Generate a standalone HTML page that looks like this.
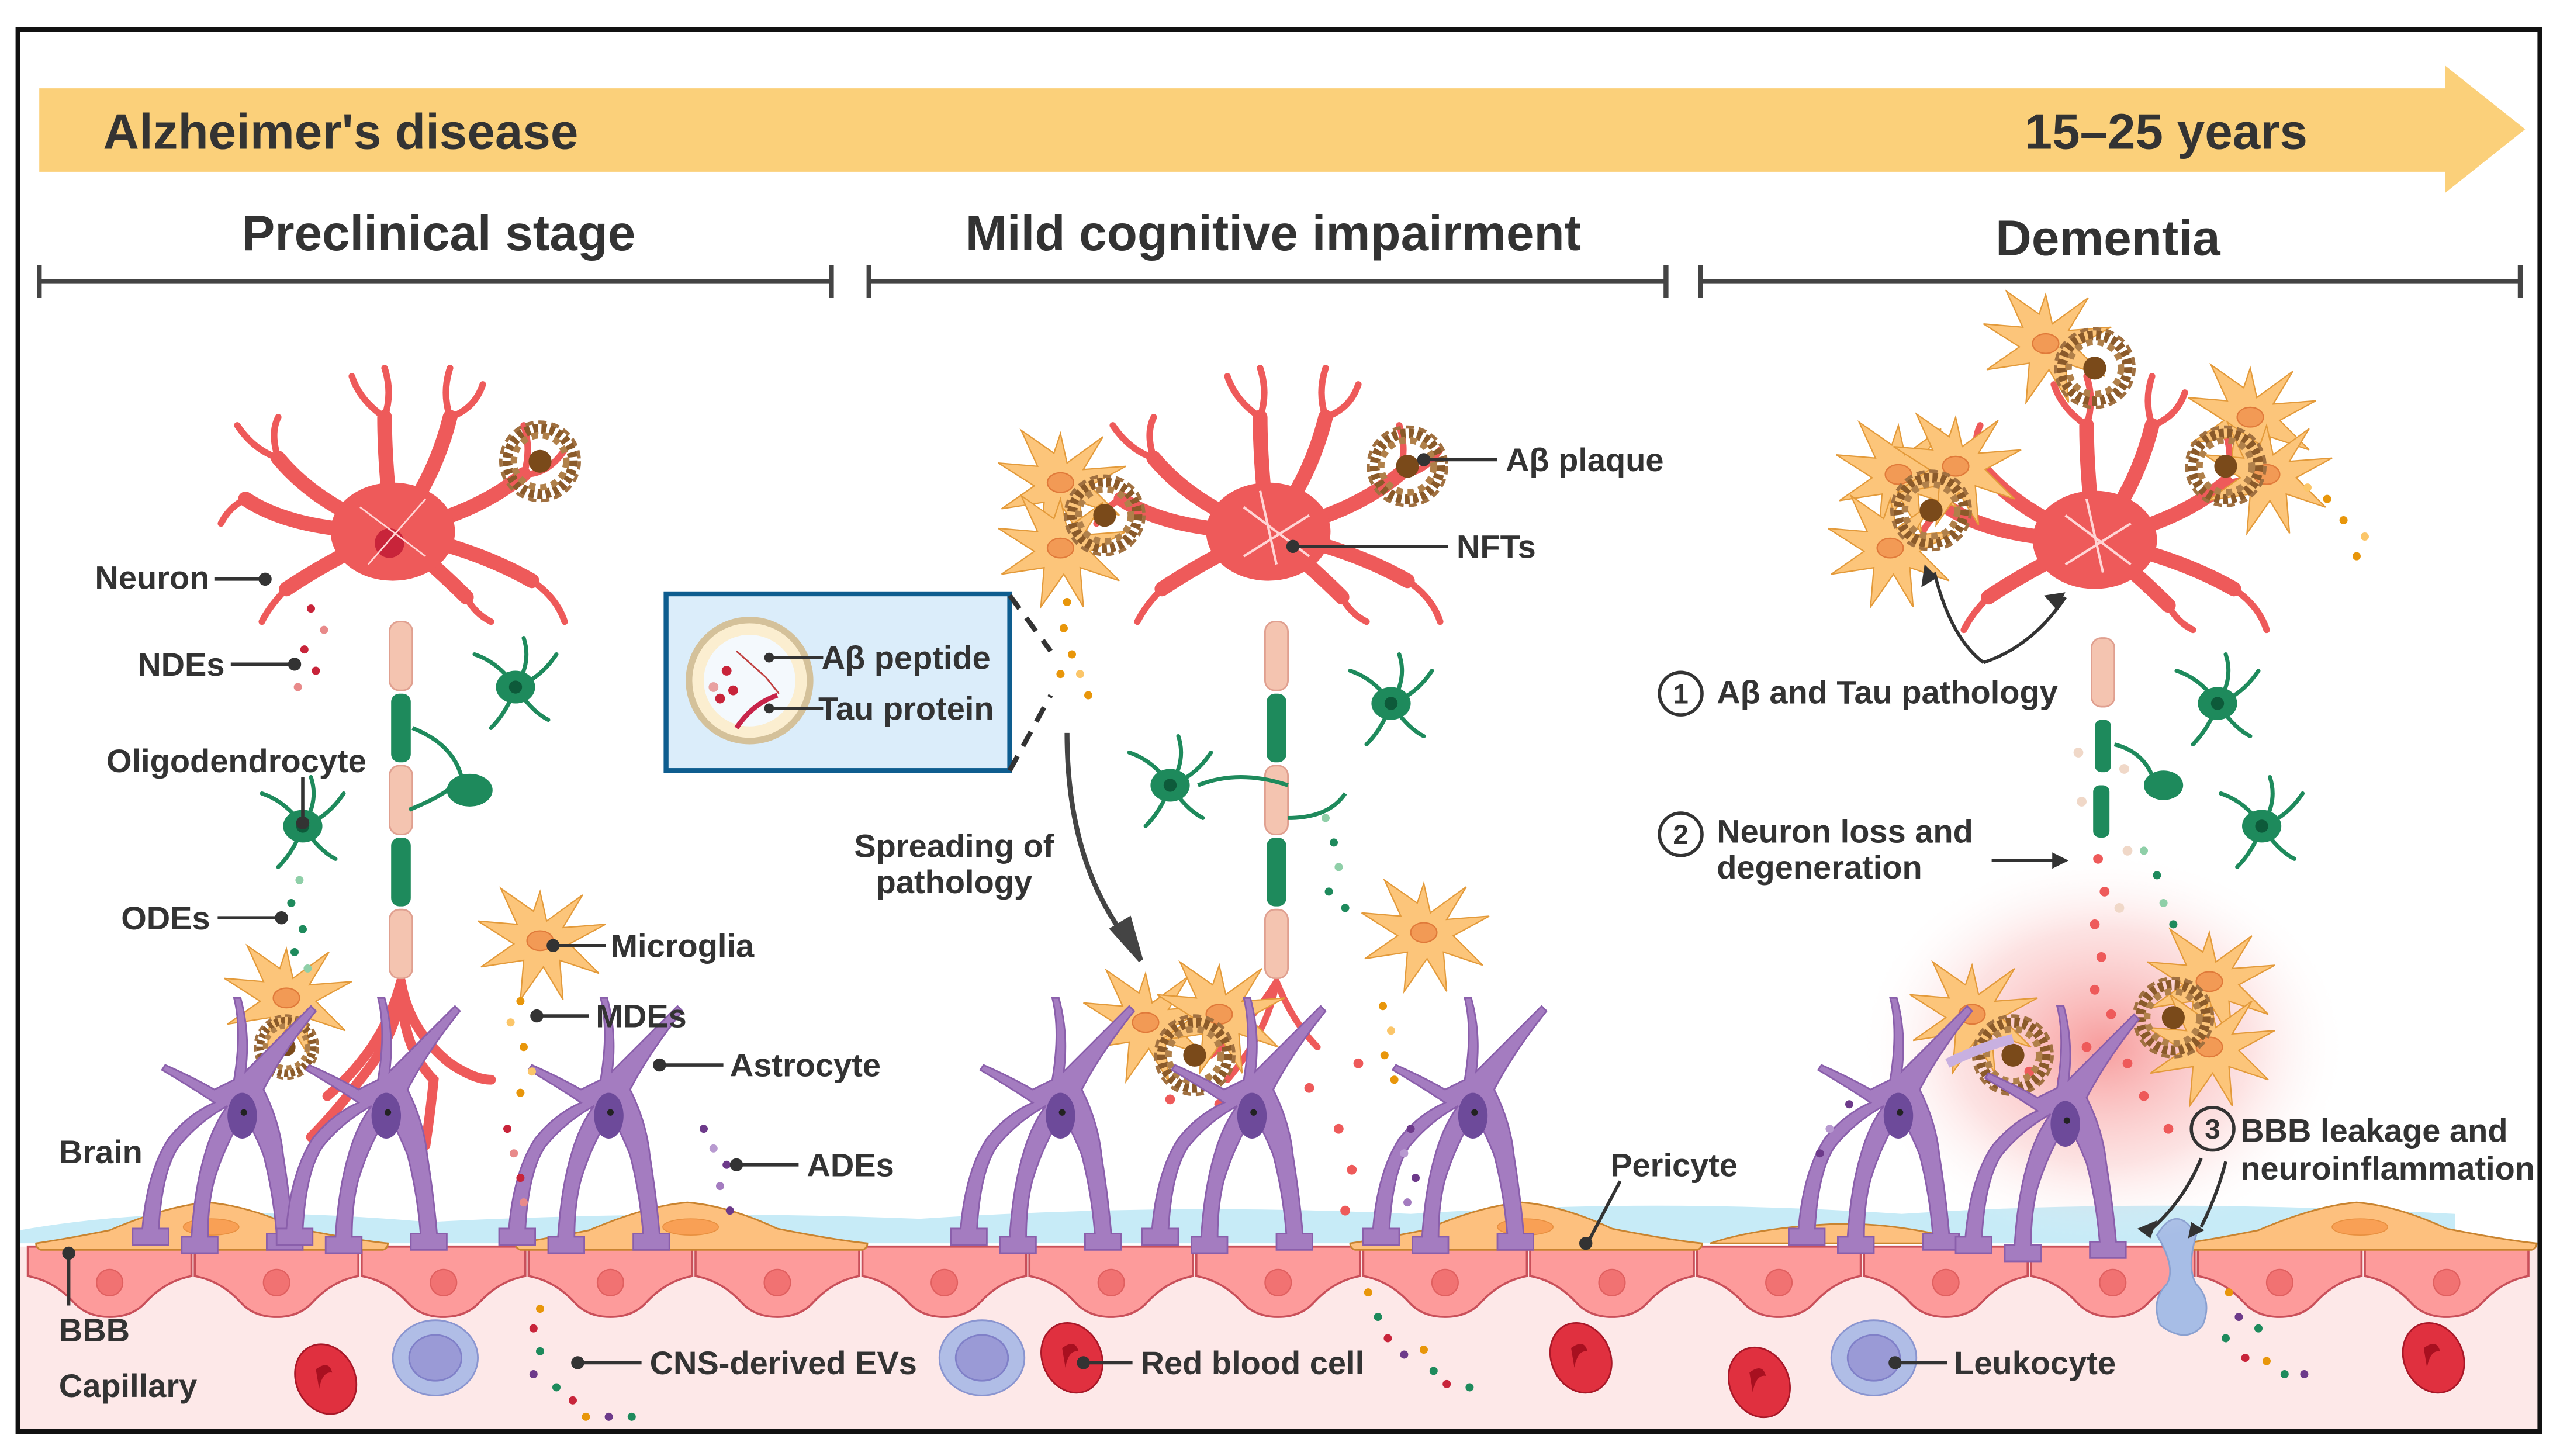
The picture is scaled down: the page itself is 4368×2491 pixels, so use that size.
<!DOCTYPE html>
<html><head><meta charset="utf-8"><style>
html,body{margin:0;padding:0;background:#fff;}
svg{display:block;}
text{font-family:"Liberation Sans",Arial,sans-serif;font-weight:bold;fill:#333;}
</style></head><body>
<svg width="4368" height="2491" viewBox="0 0 1560 890" preserveAspectRatio="none" xmlns="http://www.w3.org/2000/svg">
<defs>
<radialGradient id="glow" cx="50%" cy="50%" r="50%">
<stop offset="0" stop-color="#f25a5a" stop-opacity="0.6"/>
<stop offset="0.6" stop-color="#f7a0a0" stop-opacity="0.3"/>
<stop offset="1" stop-color="#fff" stop-opacity="0"/>
</radialGradient>
<g id="endo">
<path d="M1,762 h100 v18 q-16,3 -28,16 q-8,9 -22,9 q-14,0 -22,-9 q-12,-13 -28,-16 z" fill="#fd9b9b" stroke="#c9505a" stroke-width="1.3"/>
<circle cx="51" cy="784" r="8" fill="#f17272" stroke="#e06060" stroke-width="0.8"/>
</g>
<g id="peri">
<path d="M0,760 q20,-3 45,-8 q35,-15 60,-17 q25,2 55,16 q35,7 55,9 q0,3 -3,4 h-209 q-3,-1 -3,-4z" fill="#fdc07e" stroke="#c98430" stroke-width="1"/>
<ellipse cx="107" cy="750" rx="17" ry="5" fill="#f9a055" stroke="#e89040" stroke-width="0.6"/>
</g>
<g id="astro" fill="#a47cc0" stroke="#8a5fab" stroke-width="1">
<path d="M-5,-30 q5,-30 0,-50 l4,0 q6,22 3,45 q25,-25 40,-40 l3,3 q-20,25 -32,48 q10,20 12,40 q4,25 6,48 h6 v10 h-22 v-10 h6 q-2,-25 -8,-48 q-6,-15 -12,-25 q-12,20 -18,40 q-4,15 -4,35 h6 v10 h-22 v-10 h6 q2,-30 8,-50 q5,-18 14,-30 q-18,10 -30,25 q-10,15 -12,50 h6 v10 h-22 v-10 h6 q3,-35 16,-55 q12,-15 28,-22 q-15,-10 -32,-20 l2,-3 q18,8 30,15 z"/>
<ellipse cx="0" cy="-8" rx="9" ry="14" fill="#6d4a9a" stroke="none"/>
<circle cx="1" cy="-10" r="2" fill="#222" stroke="none"/>
</g>
<g id="micro" fill="#fcc57a" stroke="#e39a3a" stroke-width="0.8">
<path d="M0,-30 l4,18 l22,-16 l-12,20 l26,-2 l-22,12 l18,18 l-24,-8 l2,24 l-12,-20 l-14,20 l2,-24 l-26,4 l20,-14 l-22,-14 l24,2 l-10,-22 l20,14z"/>
<ellipse cx="0" cy="0" rx="8" ry="6" fill="#f29a55" stroke="#e07a3a"/>
</g>
<g id="plaque" fill="none">
<circle r="20" stroke="#8a5a2a" stroke-width="6" stroke-dasharray="3 2"/>
<circle r="16" stroke="#b0804a" stroke-width="4" stroke-dasharray="4 3"/>
<circle r="24" stroke="#a07040" stroke-width="2" stroke-dasharray="5 3"/>
<circle r="7" fill="#7a4a1a"/>
</g>
<g id="oligo" fill="none" stroke="#1e8a5c" stroke-width="2.5" stroke-linecap="round">
<path d="M0,0 q-10,-15 -25,-20 M0,0 q10,-15 5,-30 M0,0 q15,-5 25,-20 M0,0 q-5,15 -15,25 M0,0 q10,15 20,20"/>
<ellipse cx="0" cy="0" rx="12" ry="10" fill="#1e8a5c" stroke="none"/>
<circle cx="0" cy="0" r="4" fill="#0d5a3a" stroke="none"/>
</g>
<g id="rbc"><ellipse rx="18" ry="22" fill="#e0303f" stroke="#a81828" transform="rotate(-25)"/><path d="M-6,-6 q8,-6 10,2 q-6,-1 -8,10z" fill="#a81020"/></g>
<g id="leuko"><ellipse rx="26" ry="23" fill="#b0bde6" stroke="#8a95d0"/><ellipse rx="16" ry="14" fill="#9a9ad6" stroke="#8080c8"/></g>
<g id="dend" fill="none" stroke="#ee5a5a" stroke-linecap="round">
<path stroke-width="9" d="M0,0 q-5,-40 -5,-70 M0,0 q25,-30 35,-70 M0,0 q-45,-15 -70,-45 M0,0 q50,-10 80,-35 M0,0 q-60,0 -90,-20 M0,0 q50,10 85,30 M0,0 q-35,15 -65,35 M0,0 q25,20 45,40"/>
<path stroke-width="4" d="M-5,-70 q-15,-10 -20,-25 M-5,-70 q5,-15 0,-30 M35,-70 q-5,-15 0,-30 M35,-70 q15,-5 20,-20 M-70,-45 q-15,-5 -25,-20 M-70,-45 q-5,-15 0,-25 M80,-35 q5,-15 0,-30 M80,-35 q15,0 25,-15 M-90,-20 q-10,5 -15,15 M85,30 q15,10 20,25 M-65,35 q-10,10 -15,20 M45,40 q5,10 15,15"/>
<ellipse cx="0" cy="0" rx="38" ry="30" fill="#ee5a5a" stroke="none"/>
</g>
<g id="axon">
<rect x="-7" y="0" width="14" height="42" rx="6" fill="#f4c4b0" stroke="#e0a090"/>
<rect x="-6" y="44" width="12" height="42" rx="5" fill="#1e8a5c"/>
<rect x="-7" y="88" width="14" height="42" rx="6" fill="#f4c4b0" stroke="#e0a090"/>
<rect x="-6" y="132" width="12" height="42" rx="5" fill="#1e8a5c"/>
<rect x="-7" y="176" width="14" height="42" rx="6" fill="#f4c4b0" stroke="#e0a090"/>
</g>
</defs>

<rect width="1560" height="890" fill="#fff"/>
<rect x="12" y="762" width="1540" height="112" fill="#fde8e8"/>
<path d="M12,752 q100,-18 250,-5 q150,-8 300,-2 q150,-10 300,-3 q150,-10 300,0 q150,-10 338,0 v18 h-1488z" fill="#c7ebf7"/>
<g>
<use href="#endo" x="16"/><use href="#endo" x="118"/><use href="#endo" x="220"/><use href="#endo" x="322"/><use href="#endo" x="424"/>
<use href="#endo" x="526"/><use href="#endo" x="628"/><use href="#endo" x="730"/><use href="#endo" x="832"/><use href="#endo" x="934"/>
<use href="#endo" x="1036"/><use href="#endo" x="1138"/><use href="#endo" x="1240"/><use href="#endo" x="1342"/><use href="#endo" x="1444"/>
</g>
<use href="#peri" x="22"/><use href="#peri" x="315"/><use href="#peri" x="825"/><use href="#peri" x="1335"/>
<path d="M1045,760 q30,-10 80,-12 q40,0 80,12z" fill="#fdc07e" stroke="#c98430"/>
<path d="M1318,755 q12,-20 24,0 q-6,20 0,30 q10,10 4,25 q-10,12 -26,0 q-6,-15 4,-25 q6,-10 -6,-30z" fill="#a7bde6" stroke="#8aa0d0"/>
<ellipse cx="1285" cy="640" rx="150" ry="120" fill="url(#glow)"/>

<rect x="11" y="18" width="1541" height="857" fill="none" stroke="#111" stroke-width="3"/>

<path d="M24,54 H1494 V40 L1543,79 L1494,118 V105 H24z" fill="#fbd07a"/>
<text x="63" y="91" font-size="30.5">Alzheimer's disease</text>
<text x="1237" y="91" font-size="30.5">15–25 years</text>

<text x="268" y="153" font-size="30.5" text-anchor="middle">Preclinical stage</text>
<text x="778" y="153" font-size="30.5" text-anchor="middle">Mild cognitive impairment</text>
<text x="1288" y="156" font-size="30.5" text-anchor="middle">Dementia</text>
<g stroke="#444" stroke-width="3">
<path d="M24,172 H508 M24,162 V182 M508,162 V182"/>
<path d="M531,172 H1018 M531,162 V182 M1018,162 V182"/>
<path d="M1039,172 H1540 M1039,162 V182 M1540,162 V182"/>
</g>

<!-- Stage 1 -->
<g fill="none" stroke="#ee5a5a" stroke-linecap="round">
<path stroke-width="6" d="M245,600 q0,30 -25,60 q-15,20 -30,35 M245,600 q5,30 30,50 q15,10 25,10 M245,600 q0,40 20,60 q-2,20 -5,40 M245,600 q-10,40 -45,70"/>
</g>
<use href="#axon" x="245" y="380"/>
<use href="#dend" x="240" y="325"/>
<circle cx="238" cy="332" r="9" fill="#c8243a"/>
<path d="M220,310 l40,30 M225,345 l35,-40" stroke="#ffd5d5" stroke-width="1"/>
<use href="#plaque" x="330" y="282"/>
<use href="#oligo" x="315" y="420"/>
<use href="#oligo" x="185" y="505"/>
<path d="M252,445 q25,10 30,30 M250,495 q25,-10 32,-20" fill="none" stroke="#1e8a5c" stroke-width="2.5"/>
<ellipse cx="287" cy="483" rx="14" ry="10" fill="#1e8a5c"/>
<use href="#micro" x="330" y="575"/>
<use href="#micro" x="175" y="610"/>
<use href="#plaque" x="175" y="640" transform="translate(175 640) scale(0.8) translate(-175 -640)"/>
<use href="#astro" x="148" y="690"/>
<use href="#astro" x="236" y="690"/>
<use href="#astro" x="372" y="690"/>
<g>
<circle cx="190" cy="372" r="2.5" fill="#c8243a"/><circle cx="198" cy="385" r="2.5" fill="#e88a8a"/><circle cx="186" cy="397" r="2.5" fill="#c8243a"/><circle cx="193" cy="410" r="2.5" fill="#c8243a"/><circle cx="182" cy="420" r="2.5" fill="#e88a8a"/>
<circle cx="183" cy="538" r="2.5" fill="#8fcfa8"/><circle cx="178" cy="552" r="2.5" fill="#1e8a5c"/><circle cx="185" cy="568" r="2.5" fill="#1e8a5c"/><circle cx="180" cy="582" r="2.5" fill="#1e8a5c"/><circle cx="188" cy="592" r="2.5" fill="#8fcfa8"/>
<circle cx="318" cy="612" r="2.5" fill="#e8960a"/><circle cx="312" cy="625" r="2.5" fill="#fbc66a"/><circle cx="320" cy="640" r="2.5" fill="#e8960a"/><circle cx="325" cy="655" r="2.5" fill="#fbc66a"/><circle cx="318" cy="668" r="2.5" fill="#e8960a"/>
<circle cx="310" cy="690" r="2.5" fill="#c8243a"/><circle cx="314" cy="705" r="2.5" fill="#e88a8a"/><circle cx="318" cy="720" r="2.5" fill="#c8243a"/><circle cx="320" cy="735" r="2.5" fill="#e88a8a"/>
<circle cx="430" cy="690" r="2.5" fill="#6d3a8a"/><circle cx="436" cy="702" r="2.5" fill="#b89ad0"/><circle cx="444" cy="712" r="2.5" fill="#6d3a8a"/><circle cx="440" cy="725" r="2.5" fill="#a47cc0"/><circle cx="446" cy="740" r="2.5" fill="#6d3a8a"/>
<circle cx="330" cy="800" r="2.5" fill="#e8960a"/><circle cx="326" cy="812" r="2.5" fill="#c8243a"/><circle cx="330" cy="826" r="2.5" fill="#1e8a5c"/><circle cx="326" cy="840" r="2.5" fill="#6d3a8a"/><circle cx="340" cy="848" r="2.5" fill="#1e8a5c"/><circle cx="350" cy="856" r="2.5" fill="#c8243a"/><circle cx="358" cy="866" r="2.5" fill="#e8960a"/><circle cx="372" cy="866" r="2.5" fill="#6d3a8a"/><circle cx="386" cy="866" r="2.5" fill="#1e8a5c"/>
</g>
<use href="#rbc" x="199" y="843"/>
<use href="#leuko" x="266" y="830"/>

<!-- Stage 2 -->
<g fill="none" stroke="#ee5a5a" stroke-linecap="round" stroke-width="4">
<path d="M780,600 q-15,25 -40,45 M780,600 q10,25 25,40 M780,600 q-5,30 -30,60"/>
</g>
<g fill="#ee5a5a"><circle cx="715" cy="672" r="3"/><circle cx="765" cy="650" r="3"/><circle cx="800" cy="665" r="3"/><circle cx="830" cy="650" r="3"/><circle cx="818" cy="690" r="3"/><circle cx="826" cy="715" r="3"/><circle cx="822" cy="740" r="3"/><circle cx="745" cy="675" r="3"/></g>
<use href="#axon" x="780" y="380"/>
<use href="#dend" x="775" y="325"/>
<path d="M760,310 l40,30 M760,340 l40,-25 M770,300 l10,45" stroke="#ffd5d5" stroke-width="1.5"/>
<use href="#micro" x="648" y="295"/>
<use href="#micro" x="648" y="335"/>
<use href="#plaque" x="675" y="315"/>
<use href="#plaque" x="860" y="285"/>
<use href="#oligo" x="850" y="430"/>
<use href="#oligo" x="715" y="480"/>
<path d="M787,480 q-30,-10 -55,0 M787,500 q25,0 35,-15" fill="none" stroke="#1e8a5c" stroke-width="2.5"/>
<use href="#micro" x="870" y="570"/>
<use href="#micro" x="700" y="625"/>
<use href="#micro" x="745" y="620"/>
<use href="#plaque" x="730" y="645"/>
<use href="#astro" x="648" y="690"/>
<use href="#astro" x="765" y="690"/>
<use href="#astro" x="900" y="690"/>
<g>
<circle cx="652" cy="368" r="2.5" fill="#e8960a"/><circle cx="650" cy="384" r="2.5" fill="#e8960a"/><circle cx="655" cy="400" r="2.5" fill="#e8960a"/><circle cx="648" cy="412" r="2.5" fill="#e8960a"/><circle cx="660" cy="412" r="2.5" fill="#fbc66a"/><circle cx="665" cy="425" r="2.5" fill="#e8960a"/>
<circle cx="810" cy="500" r="2.5" fill="#8fcfa8"/><circle cx="815" cy="515" r="2.5" fill="#1e8a5c"/><circle cx="818" cy="530" r="2.5" fill="#8fcfa8"/><circle cx="812" cy="545" r="2.5" fill="#1e8a5c"/><circle cx="822" cy="555" r="2.5" fill="#1e8a5c"/>
<circle cx="845" cy="615" r="2.5" fill="#e8960a"/><circle cx="850" cy="630" r="2.5" fill="#fbc66a"/><circle cx="846" cy="645" r="2.5" fill="#e8960a"/><circle cx="852" cy="660" r="2.5" fill="#e8960a"/>
<circle cx="862" cy="690" r="2.5" fill="#6d3a8a"/><circle cx="858" cy="705" r="2.5" fill="#b89ad0"/><circle cx="865" cy="720" r="2.5" fill="#6d3a8a"/><circle cx="860" cy="735" r="2.5" fill="#a47cc0"/>
<circle cx="836" cy="790" r="2.5" fill="#e8960a"/><circle cx="842" cy="805" r="2.5" fill="#1e8a5c"/><circle cx="848" cy="818" r="2.5" fill="#c8243a"/><circle cx="858" cy="828" r="2.5" fill="#6d3a8a"/><circle cx="870" cy="825" r="2.5" fill="#e8960a"/><circle cx="876" cy="838" r="2.5" fill="#1e8a5c"/><circle cx="884" cy="846" r="2.5" fill="#c8243a"/><circle cx="898" cy="848" r="2.5" fill="#1e8a5c"/>
</g>
<use href="#leuko" x="600" y="830"/>
<use href="#rbc" x="655" y="830"/>
<use href="#rbc" x="966" y="830"/>
<rect x="407" y="363" width="210" height="108" fill="#dbedfa" stroke="#0e5d8f" stroke-width="3"/>
<circle cx="458" cy="416" r="37" fill="#fbeed0" stroke="#d4c19a" stroke-width="4"/>
<circle cx="458" cy="416" r="28" fill="#f4f9fd"/>
<circle cx="444" cy="410" r="3" fill="#c8243a"/><circle cx="448" cy="422" r="3" fill="#c8243a"/><circle cx="436" cy="420" r="3" fill="#e8a0a0"/><circle cx="440" cy="427" r="3" fill="#c8243a"/>
<path d="M450,398 l18,16 l8,10" stroke="#c04040" stroke-width="1" fill="none"/>
<path d="M450,445 q10,-15 25,-20" stroke="#c8244a" stroke-width="3" fill="none"/>
<g stroke="#333" stroke-width="2"><line x1="470" y1="402" x2="503" y2="402"/><line x1="470" y1="433" x2="503" y2="433"/></g>
<circle cx="470" cy="402" r="3" fill="#333"/><circle cx="470" cy="433" r="3" fill="#333"/>
<text x="502" y="409" font-size="20">Aβ peptide</text>
<text x="500" y="440" font-size="20">Tau protein</text>
<path d="M617,364 L642,398 M617,471 L642,425" stroke="#333" stroke-width="3" stroke-dasharray="10 7" fill="none"/>
<path d="M652,448 q0,80 38,128" stroke="#444" stroke-width="3" fill="none"/>
<path d="M680,568 L697,587 L690,562z" fill="#444" stroke="#444" stroke-width="3"/>
<text x="583" y="524" font-size="20" text-anchor="middle">Spreading of</text>
<text x="583" y="546" font-size="20" text-anchor="middle">pathology</text>

<!-- Stage 3 -->
<g fill="#ee5a5a"><circle cx="1282" cy="525" r="3"/><circle cx="1286" cy="545" r="3"/><circle cx="1280" cy="565" r="3"/><circle cx="1284" cy="585" r="3"/><circle cx="1280" cy="605" r="3"/><circle cx="1290" cy="620" r="3"/><circle cx="1275" cy="640" r="3"/><circle cx="1300" cy="650" r="3"/><circle cx="1260" cy="660" r="3"/><circle cx="1310" cy="670" r="3"/><circle cx="1240" cy="655" r="3"/><circle cx="1325" cy="690" r="3"/></g>
<g fill="#f0d8c8"><circle cx="1270" cy="460" r="3"/><circle cx="1298" cy="470" r="3"/><circle cx="1272" cy="490" r="3"/><circle cx="1300" cy="520" r="3"/><circle cx="1295" cy="555" r="3"/></g>
<rect x="1278" y="390" width="14" height="42" rx="6" fill="#f4c4b0" stroke="#e0a090"/>
<rect x="1280" y="440" width="10" height="32" rx="4" fill="#1e8a5c"/>
<rect x="1279" y="480" width="10" height="32" rx="4" fill="#1e8a5c"/>
<use href="#dend" x="1280" y="330"/>
<path d="M1262,315 l40,30 M1262,345 l40,-25 M1275,305 l10,45" stroke="#ffd5d5" stroke-width="1.5"/>
<use href="#micro" x="1250" y="210"/>
<use href="#micro" x="1160" y="290"/>
<use href="#micro" x="1195" y="285"/>
<use href="#micro" x="1155" y="335"/>
<use href="#micro" x="1375" y="255"/>
<use href="#micro" x="1385" y="290"/>
<use href="#plaque" x="1280" y="225"/>
<use href="#plaque" x="1180" y="312"/>
<use href="#plaque" x="1360" y="285"/>
<use href="#oligo" x="1355" y="430"/>
<use href="#oligo" x="1382" y="505"/>
<path d="M1292,455 q20,5 25,25" fill="none" stroke="#1e8a5c" stroke-width="2.5"/>
<ellipse cx="1322" cy="480" rx="12" ry="9" fill="#1e8a5c"/>
<use href="#micro" x="1205" y="620"/>
<use href="#micro" x="1350" y="600"/>
<use href="#micro" x="1350" y="640"/>
<use href="#plaque" x="1230" y="645"/>
<use href="#plaque" x="1328" y="622"/>
<use href="#astro" x="1160" y="690"/>
<use href="#astro" x="1262" y="695"/>
<path d="M1190,650 q20,-10 40,-15" stroke="#c8b0e0" stroke-width="6" fill="none"/>
<g>
<circle cx="1410" cy="298" r="2.5" fill="#fbc66a"/><circle cx="1422" cy="305" r="2.5" fill="#e8960a"/><circle cx="1432" cy="318" r="2.5" fill="#e8960a"/><circle cx="1445" cy="328" r="2.5" fill="#fbc66a"/><circle cx="1440" cy="340" r="2.5" fill="#e8960a"/>
<circle cx="1310" cy="520" r="2.5" fill="#8fcfa8"/><circle cx="1318" cy="535" r="2.5" fill="#1e8a5c"/><circle cx="1322" cy="552" r="2.5" fill="#8fcfa8"/><circle cx="1328" cy="565" r="2.5" fill="#1e8a5c"/>
<circle cx="1130" cy="675" r="2.5" fill="#6d3a8a"/><circle cx="1118" cy="690" r="2.5" fill="#b89ad0"/><circle cx="1112" cy="705" r="2.5" fill="#6d3a8a"/><circle cx="1110" cy="720" r="2.5" fill="#a47cc0"/>
<circle cx="1362" cy="790" r="2.5" fill="#e8960a"/><circle cx="1368" cy="805" r="2.5" fill="#6d3a8a"/><circle cx="1360" cy="818" r="2.5" fill="#1e8a5c"/><circle cx="1372" cy="830" r="2.5" fill="#c8243a"/><circle cx="1385" cy="832" r="2.5" fill="#e8960a"/><circle cx="1396" cy="840" r="2.5" fill="#1e8a5c"/><circle cx="1408" cy="840" r="2.5" fill="#6d3a8a"/><circle cx="1380" cy="812" r="2.5" fill="#1e8a5c"/>
</g>
<use href="#rbc" x="1075" y="845"/>
<use href="#leuko" x="1145" y="830"/>
<use href="#rbc" x="1487" y="830"/>
<g fill="none" stroke="#333" stroke-width="2">
<circle cx="1027" cy="424" r="13"/><circle cx="1027" cy="510" r="13"/><circle cx="1352" cy="690" r="13"/>
<path d="M1212,405 q-20,-15 -30,-55 M1212,405 q30,-10 50,-40"/>
<path d="M1217,526 H1260"/>
<path d="M1345,708 q-10,25 -30,43 M1360,710 q-5,20 -15,40"/>
</g>
<path d="M1176,345 l-2,14 l10,-6z M1262,362 l-13,2 l8,9z M1264,526 l-10,-5 v10z M1318,746 l-12,5 l8,6z M1347,752 l-8,-5 l-2,10z" fill="#333"/>
<text x="1027" y="430" font-size="17" text-anchor="middle">1</text>
<text x="1027" y="516" font-size="17" text-anchor="middle">2</text>
<text x="1352" y="696" font-size="17" text-anchor="middle">3</text>
<text x="1049" y="430" font-size="20">Aβ and Tau pathology</text>
<text x="1049" y="515" font-size="20">Neuron loss and</text>
<text x="1049" y="537" font-size="20">degeneration</text>
<text x="1369" y="698" font-size="20">BBB leakage and</text>
<text x="1369" y="721" font-size="20">neuroinflammation</text>

<g stroke="#333" stroke-width="2" fill="#333">
<line x1="131" y1="354" x2="160" y2="354"/><circle cx="162" cy="354" r="3"/>
<line x1="141" y1="406" x2="178" y2="406"/><circle cx="180" cy="406" r="3"/>
<line x1="185" y1="475" x2="185" y2="500"/><circle cx="185" cy="503" r="3"/>
<line x1="133" y1="561" x2="170" y2="561"/><circle cx="172" cy="561" r="3"/>
<line x1="340" y1="578" x2="370" y2="578"/><circle cx="338" cy="578" r="3"/>
<line x1="330" y1="621" x2="360" y2="621"/><circle cx="328" cy="621" r="3"/>
<line x1="405" y1="651" x2="442" y2="651"/><circle cx="403" cy="651" r="3"/>
<line x1="452" y1="712" x2="488" y2="712"/><circle cx="450" cy="712" r="3"/>
<line x1="42" y1="768" x2="42" y2="798"/><circle cx="42" cy="766" r="3"/>
<line x1="355" y1="833" x2="392" y2="833"/><circle cx="353" cy="833" r="3"/>
<line x1="664" y1="833" x2="692" y2="833"/><circle cx="662" cy="833" r="3"/>
<line x1="1160" y1="833" x2="1190" y2="833"/><circle cx="1158" cy="833" r="3"/>
<line x1="872" y1="281" x2="915" y2="281"/><circle cx="870" cy="281" r="3"/>
<line x1="792" y1="334" x2="885" y2="334"/><circle cx="790" cy="334" r="3"/>
<path d="M990,722 L970,760" fill="none"/><circle cx="969" cy="760" r="3"/>
</g>
<text x="58" y="360" font-size="20">Neuron</text>
<text x="84" y="413" font-size="20">NDEs</text>
<text x="65" y="472" font-size="20">Oligodendrocyte</text>
<text x="74" y="568" font-size="20">ODEs</text>
<text x="373" y="585" font-size="20">Microglia</text>
<text x="364" y="628" font-size="20">MDEs</text>
<text x="446" y="658" font-size="20">Astrocyte</text>
<text x="493" y="719" font-size="20">ADEs</text>
<text x="36" y="711" font-size="20">Brain</text>
<text x="36" y="820" font-size="20">BBB</text>
<text x="36" y="854" font-size="20">Capillary</text>
<text x="397" y="840" font-size="20">CNS-derived EVs</text>
<text x="697" y="840" font-size="20">Red blood cell</text>
<text x="1194" y="840" font-size="20">Leukocyte</text>
<text x="920" y="288" font-size="20">Aβ plaque</text>
<text x="890" y="341" font-size="20">NFTs</text>
<text x="984" y="719" font-size="20">Pericyte</text>
</svg>
</body></html>
